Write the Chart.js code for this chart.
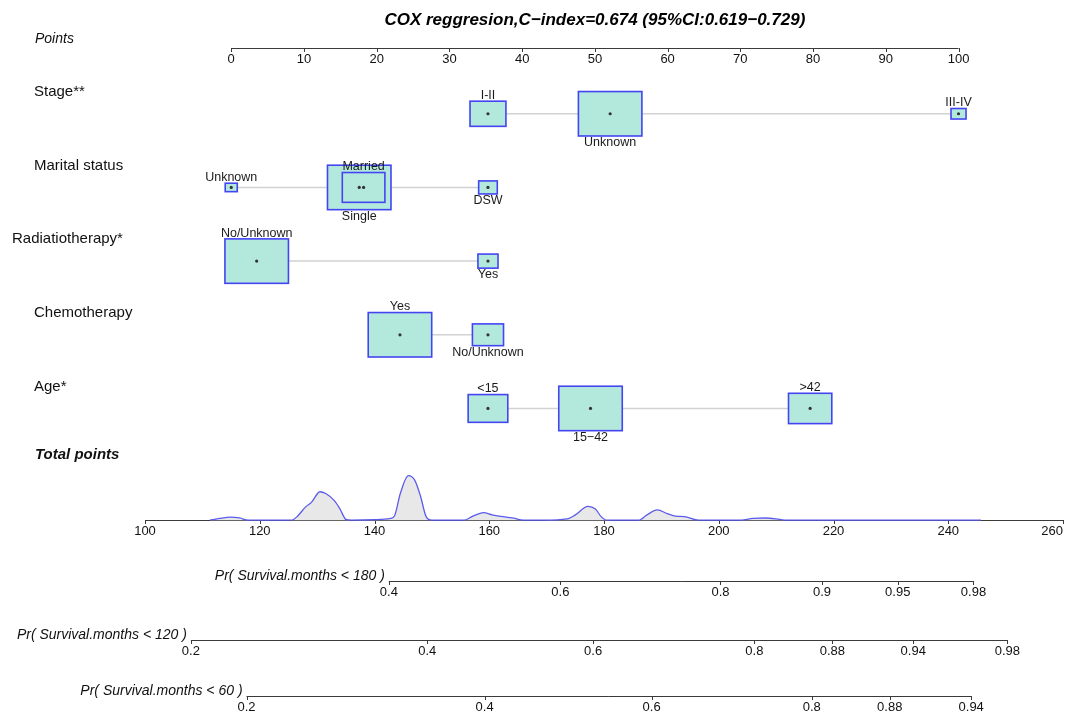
<!DOCTYPE html>
<html>
<head>
<meta charset="utf-8">
<title>Nomogram</title>
<script src="https://cdn.jsdelivr.net/npm/chart.js@4.4.1/dist/chart.umd.min.js"></script>
<style>
  html, body { margin: 0; padding: 0; background: #fff; }
  #wrap { width: 1067px; height: 717px; }
</style>
</head>
<body>
<div id="wrap"><canvas id="nomo" width="1067" height="717"></canvas></div>
<script>
// Datos
const titleText = 'COX reggresion,C\u2212index=0.674 (95%CI:0.619\u22120.729)';

const pointTicks = [0, 10, 20, 30, 40, 50, 60, 70, 80, 90, 100];
const totalTicks = [100, 120, 140, 160, 180, 200, 220, 240, 260];

// puntos por nivel y frecuencia relativa (nivel mas comun = 1)
const stageLevels = ['I-II', 'Unknown', 'III-IV'];
const stagePoints = [35.3, 52.1, 100];
const stageShare = [0.32, 1, 0.056];

const maritalLevels = ['Unknown', 'Single', 'Married', 'DSW'];
const maritalPoints = [0, 17.6, 18.2, 35.3];
const maritalShare = [0.036, 1, 0.45, 0.086];

const radioLevels = ['No/Unknown', 'Yes'];
const radioPoints = [3.5, 35.3];
const radioShare = [1, 0.1];

const chemoLevels = ['Yes', 'No/Unknown'];
const chemoPoints = [23.2, 35.3];
const chemoShare = [1, 0.24];

const ageLevels = ['<15', '15\u221242', '>42'];
const agePoints = [35.3, 49.4, 79.6];
const ageShare = [0.39, 1, 0.465];

// densidad de los puntos totales (unidades relativas)
const densityAt = [111.3, 113, 114.9, 116.5, 118, 125.5, 126.5, 128, 129, 130.5, 131.5, 133, 134, 135, 136,
    140, 142.8, 143.5, 144.5, 145.9, 147, 148, 149, 150, 155.6, 157, 159, 160.5, 162, 164, 166,
    169.4, 173.6, 175, 177.2, 178.5, 179.5, 180.5, 186, 187.5, 189.3, 191, 192.5, 194, 196.5,
    203.5, 206, 208.1, 210, 211.5, 245.7];
const densityVal = [0, 0.04, 0.07, 0.05, 0, 0, 0.08, 0.3, 0.4, 0.64, 0.6, 0.44, 0.25, 0.02, 0,
    0.01, 0.04, 0.1, 0.6, 1.0, 0.9, 0.55, 0.08, 0, 0, 0.08, 0.17, 0.12, 0.085, 0.05, 0,
    0, 0.03, 0.12, 0.31, 0.25, 0.08, 0, 0, 0.12, 0.23, 0.15, 0.09, 0.08, 0,
    0, 0.04, 0.05, 0.03, 0, 0];

// escalas de probabilidad: valor y posicion en puntos totales
const pr180Probs = ['0.4', '0.6', '0.8', '0.9', '0.95', '0.98'];
const pr180At = [142.5, 172.4, 200.3, 218.0, 231.2, 244.4];
const pr120Probs = ['0.2', '0.4', '0.6', '0.8', '0.88', '0.94', '0.98'];
const pr120At = [108.0, 149.2, 178.1, 206.2, 219.8, 233.9, 250.3];
const pr60Probs = ['0.2', '0.4', '0.6', '0.8', '0.88', '0.94'];
const pr60At = [117.7, 159.2, 188.3, 216.2, 229.8, 244.0];

// Layout (no son datos)
const FONT = '"Liberation Sans", Arial, Helvetica, sans-serif';
const PTS_FROM = 115.03;   // puntos totales bajo 0 puntos
const PTS_TO = 241.79;     // puntos totales bajo 100 puntos
const ROW_POINTS = 0.101, ROW_TOTAL = 6.517;
const ROW_TITLE = -0.262, ROW_TOTAL_LABEL = 5.631;
const ROW_PR180 = 7.349, ROW_PR120 = 8.141, ROW_PR60 = 8.906;
const DENS_ROWS = 0.604;   // altura del pico de densidad en filas
const BOX_MAX_W = 63.5, BOX_ASPECT = 0.7;
const BOX_FILL = '#b3e9dd', BOX_EDGE = '#4444f2';
const AXIS_COLOR = '#3a3a3a';

const variables = [
    { name: 'Stage**', labelX: 34, row: 1, levels: stageLevels, points: stagePoints, share: stageShare },
    { name: 'Marital status', labelX: 34, row: 2, levels: maritalLevels, points: maritalPoints, share: maritalShare },
    { name: 'Radiatiotherapy*', labelX: 12, row: 3, levels: radioLevels, points: radioPoints, share: radioShare },
    { name: 'Chemotherapy', labelX: 34, row: 4, levels: chemoLevels, points: chemoPoints, share: chemoShare },
    { name: 'Age*', labelX: 34, row: 5, levels: ageLevels, points: agePoints, share: ageShare }
];

const probAxes = [
    { name: 'Pr( Survival.months < 180 )', row: ROW_PR180, labels: pr180Probs, at: pr180At },
    { name: 'Pr( Survival.months < 120 )', row: ROW_PR120, labels: pr120Probs, at: pr120At },
    { name: 'Pr( Survival.months < 60 )', row: ROW_PR60, labels: pr60Probs, at: pr60At }
];

// Datasets
const datasets = [];

// puntos centrales de cada caja (encima de todo)
const dots = [];
variables.forEach(v => v.points.forEach(p => dots.push({ x: p, y: v.row })));
datasets.push({
    type: 'scatter', data: dots, xAxisID: 'xp', yAxisID: 'y', order: 0,
    pointRadius: 1.6, pointBackgroundColor: '#333', pointBorderWidth: 0
});

// linea gris que une los niveles
variables.forEach(v => {
    const sorted = v.points.map((p, i) => i).sort((a, b) => v.points[a] - v.points[b]);
    datasets.push({
        type: 'line', variable: v, order: 1, xAxisID: 'xp', yAxisID: 'y',
        data: sorted.map(i => ({ x: v.points[i], y: v.row })),
        borderColor: '#d2d2d2', borderWidth: 1.5, pointRadius: 0, fill: false
    });
});

// densidad de puntos totales
datasets.push({
    type: 'line', order: 2, xAxisID: 'x', yAxisID: 'y',
    data: densityAt.map((t, i) => ({ x: t, y: ROW_TOTAL - densityVal[i] * DENS_ROWS })),
    borderColor: '#5c5cec', borderWidth: 1.3, backgroundColor: '#e8e8e8',
    fill: { value: ROW_TOTAL }, pointRadius: 0, cubicInterpolationMode: 'monotone'
});

// Cajas (tamano segun frecuencia) y etiquetas de nivel
const boxPlugin = {
    id: 'levelBoxes',
    afterDatasetDraw(chart, args) {
        const ds = chart.data.datasets[args.index];
        if (!ds.variable) return;
        const v = ds.variable;
        const ctx = chart.ctx;
        const xs = chart.scales.xp, ys = chart.scales.y;
        const cy = ys.getPixelForValue(v.row);
        const idx = v.points.map((p, i) => i);
        ctx.save();
        // las grandes primero, asi las pequenas quedan visibles
        [...idx].sort((a, b) => v.share[b] - v.share[a]).forEach(i => {
            const cx = xs.getPixelForValue(v.points[i]);
            const w = BOX_MAX_W * Math.sqrt(v.share[i]);
            const h = w * BOX_ASPECT;
            ctx.fillStyle = BOX_FILL;
            ctx.fillRect(cx - w / 2, cy - h / 2, w, h);
            ctx.strokeStyle = BOX_EDGE;
            ctx.lineWidth = 1.6;
            ctx.strokeRect(cx - w / 2, cy - h / 2, w, h);
        });
        // etiquetas alternando arriba / abajo
        ctx.font = '12.5px ' + FONT;
        ctx.fillStyle = '#1a1a1a';
        ctx.textAlign = 'center';
        [...idx].sort((a, b) => v.points[a] - v.points[b]).forEach((i, k) => {
            const cx = xs.getPixelForValue(v.points[i]);
            const h = BOX_MAX_W * Math.sqrt(v.share[i]) * BOX_ASPECT;
            if (k % 2 === 0) {
                ctx.textBaseline = 'bottom';
                ctx.fillText(v.levels[i], cx, cy - h / 2 + 0.5);
            } else {
                ctx.textBaseline = 'top';
                ctx.fillText(v.levels[i], cx, cy + h / 2 + 0.5);
            }
        });
        ctx.restore();
    }
};

// Ejes, titulo y textos
function drawAxis(ctx, scale, y, values, labels, startValue) {
    const xs = values.map(v => scale.getPixelForValue(v));
    const x0 = startValue !== undefined ? scale.getPixelForValue(startValue) : xs[0];
    const x1 = xs[xs.length - 1];
    ctx.strokeStyle = AXIS_COLOR;
    ctx.lineWidth = 1;
    ctx.beginPath();
    ctx.moveTo(x0, y + 0.5);
    ctx.lineTo(x1, y + 0.5);
    xs.forEach(x => {
        ctx.moveTo(Math.round(x) + 0.5, y);
        ctx.lineTo(Math.round(x) + 0.5, y + 4);
    });
    ctx.stroke();
    ctx.font = '13px ' + FONT;
    ctx.fillStyle = '#111';
    ctx.textAlign = 'center';
    ctx.textBaseline = 'middle';
    const W = ctx.canvas.width;
    xs.forEach((x, i) => {
        const txt = String(labels[i]);
        const half = ctx.measureText(txt).width / 2;
        ctx.fillText(txt, Math.min(x, W - 4 - half), y + 11);
    });
}

const axesPlugin = {
    id: 'nomoAxes',
    beforeDatasetsDraw(chart) {
        const ctx = chart.ctx;
        const ys = chart.scales.y, xp = chart.scales.xp, xt = chart.scales.x;
        ctx.save();

        // titulo
        ctx.font = 'italic bold 17px ' + FONT;
        ctx.fillStyle = '#000';
        ctx.textAlign = 'center';
        ctx.textBaseline = 'middle';
        ctx.fillText(titleText, xp.getPixelForValue(50), ys.getPixelForValue(ROW_TITLE));

        // eje de puntos
        const yPts = Math.round(ys.getPixelForValue(ROW_POINTS));
        drawAxis(ctx, xp, yPts, pointTicks, pointTicks);
        ctx.font = 'italic 14px ' + FONT;
        ctx.fillStyle = '#111';
        ctx.textAlign = 'left';
        ctx.textBaseline = 'middle';
        ctx.fillText('Points', 35, yPts - 9);

        // nombres de variables
        ctx.font = '15px ' + FONT;
        variables.forEach(v => {
            ctx.fillText(v.name, v.labelX, ys.getPixelForValue(v.row) - 22);
        });

        // puntos totales
        ctx.font = 'italic bold 15px ' + FONT;
        ctx.fillText('Total points', 35, ys.getPixelForValue(ROW_TOTAL_LABEL));
        const yTot = Math.round(ys.getPixelForValue(ROW_TOTAL));
        drawAxis(ctx, xt, yTot, totalTicks, totalTicks);

        // probabilidades
        probAxes.forEach(a => {
            const yA = Math.round(ys.getPixelForValue(a.row));
            drawAxis(ctx, xt, yA, a.at, a.labels);
            ctx.font = 'italic 14px ' + FONT;
            ctx.fillStyle = '#111';
            ctx.textAlign = 'right';
            ctx.textBaseline = 'middle';
            ctx.fillText(a.name, xt.getPixelForValue(a.at[0]) - 4, yA - 5);
        });
        ctx.restore();
    }
};

// Grafico
const scaleK = 100 / (PTS_TO - PTS_FROM);
new Chart(document.getElementById('nomo'), {
    type: 'scatter',
    data: { datasets },
    options: {
        responsive: false,
        devicePixelRatio: 1,
        animation: false,
        layout: { padding: { left: 145, right: 2, top: 0, bottom: 0 } },
        plugins: { legend: { display: false }, tooltip: { enabled: false } },
        scales: {
            x: { type: 'linear', min: 100, max: 260, display: false },
            xp: { type: 'linear', axis: 'x', min: (100 - PTS_FROM) * scaleK, max: (260 - PTS_FROM) * scaleK, display: false },
            y: { type: 'linear', min: -0.49, max: 9.134, reverse: true, display: false }
        }
    },
    plugins: [axesPlugin, boxPlugin]
});
</script>
</body>
</html>
